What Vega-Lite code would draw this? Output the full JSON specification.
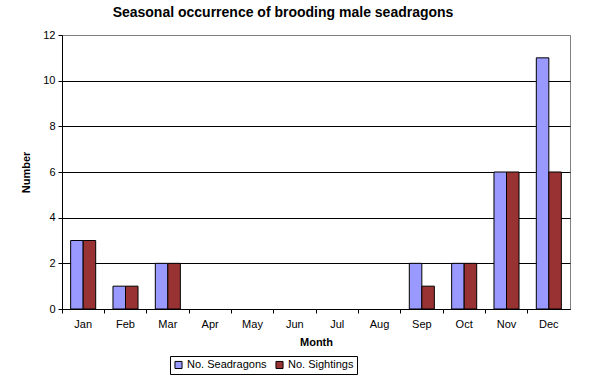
{
  "$schema": "https://vega.github.io/schema/vega-lite/v6.json",
  "autosize": "none",
  "width": 508,
  "height": 274,
  "padding": {"left": 62, "top": 35, "right": 24, "bottom": 78},
  "background": "white",
  "title": {
    "text": "Seasonal occurrence of brooding male seadragons",
    "font": "Liberation Sans",
    "fontSize": 14,
    "fontWeight": "bold",
    "color": "black",
    "anchor": "middle",
    "dx": -33,
    "offset": 9
  },
  "data": {
    "values": [
      {"month": "Jan", "series": "No. Seadragons", "value": 3},
      {"month": "Jan", "series": "No. Sightings", "value": 3},
      {"month": "Feb", "series": "No. Seadragons", "value": 1},
      {"month": "Feb", "series": "No. Sightings", "value": 1},
      {"month": "Mar", "series": "No. Seadragons", "value": 2},
      {"month": "Mar", "series": "No. Sightings", "value": 2},
      {"month": "Apr", "series": "No. Seadragons", "value": 0},
      {"month": "Apr", "series": "No. Sightings", "value": 0},
      {"month": "May", "series": "No. Seadragons", "value": 0},
      {"month": "May", "series": "No. Sightings", "value": 0},
      {"month": "Jun", "series": "No. Seadragons", "value": 0},
      {"month": "Jun", "series": "No. Sightings", "value": 0},
      {"month": "Jul", "series": "No. Seadragons", "value": 0},
      {"month": "Jul", "series": "No. Sightings", "value": 0},
      {"month": "Aug", "series": "No. Seadragons", "value": 0},
      {"month": "Aug", "series": "No. Sightings", "value": 0},
      {"month": "Sep", "series": "No. Seadragons", "value": 2},
      {"month": "Sep", "series": "No. Sightings", "value": 1},
      {"month": "Oct", "series": "No. Seadragons", "value": 2},
      {"month": "Oct", "series": "No. Sightings", "value": 2},
      {"month": "Nov", "series": "No. Seadragons", "value": 6},
      {"month": "Nov", "series": "No. Sightings", "value": 6},
      {"month": "Dec", "series": "No. Seadragons", "value": 11},
      {"month": "Dec", "series": "No. Sightings", "value": 6}
    ]
  },
  "mark": {"type": "bar", "strokeWidth": 1},
  "encoding": {
    "x": {
      "field": "month",
      "type": "nominal",
      "sort": ["Jan","Feb","Mar","Apr","May","Jun","Jul","Aug","Sep","Oct","Nov","Dec"],
      "scale": {"paddingInner": 0, "paddingOuter": 0},
      "axis": {
        "title": "Month",
        "labelAngle": 0,
        "bandPosition": 0,
        "tickSize": 4,
        "labelPadding": 5,
        "titlePadding": 7,
        "grid": false
      }
    },
    "xOffset": {
      "field": "series",
      "type": "nominal",
      "sort": ["No. Seadragons", "No. Sightings"],
      "scale": {"paddingInner": 0, "paddingOuter": 0.69}
    },
    "y": {
      "field": "value",
      "type": "quantitative",
      "scale": {"domain": [0, 12], "nice": false},
      "axis": {
        "title": "Number",
        "values": [0, 2, 4, 6, 8, 10, 12],
        "tickSize": 4,
        "labelPadding": 3,
        "titlePadding": 11,
        "grid": true,
        "gridColor": {"condition": {"test": "datum.value == 12", "value": "#808080"}, "value": "black"}
      }
    },
    "stroke": {
      "condition": {"test": "datum.value > 0", "value": "black"},
      "value": null
    },
    "color": {
      "field": "series",
      "type": "nominal",
      "scale": {"domain": ["No. Seadragons", "No. Sightings"], "range": ["#9999FF", "#993333"]},
      "legend": {
        "title": null,
        "orient": "none",
        "direction": "horizontal",
        "legendX": 108,
        "legendY": 321,
        "padding": 3,
        "strokeColor": "black",
        "symbolType": "square",
        "symbolSize": 50,
        "symbolStrokeColor": "black",
        "symbolStrokeWidth": 1,
        "symbolOpacity": 1,
        "columnPadding": 6,
        "labelOffset": 3,
        "labelFont": "Liberation Sans",
        "labelFontSize": 11,
        "labelColor": "black"
      }
    }
  },
  "config": {
    "view": {"stroke": "#808080", "strokeWidth": 1},
    "axis": {
      "labelFont": "Liberation Sans",
      "labelFontSize": 11,
      "labelColor": "black",
      "titleFont": "Liberation Sans",
      "titleFontSize": 11,
      "titleFontWeight": "bold",
      "titleColor": "black",
      "domainColor": "black",
      "tickColor": "black",
      "gridWidth": 1,
      "gridOpacity": 1
    }
  }
}
